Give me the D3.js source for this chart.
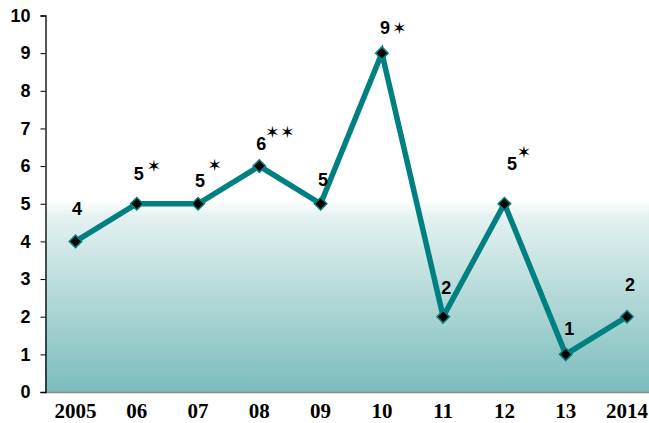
<!DOCTYPE html>
<html><head><meta charset="utf-8">
<script src="https://cdn.jsdelivr.net/npm/d3@7"></script>
<style>html,body{margin:0;padding:0;background:#fff;}svg{display:block;}</style>
</head><body>
<script>
const years = ["2005","06","07","08","09","10","11","12","13","2014"];
const values = [4,5,5,6,5,9,2,5,1,2];
const starCounts = [0,1,1,2,0,1,0,1,0,0];
const yTicks = [0,1,2,3,4,5,6,7,8,9,10];

const W = 649, H = 423;
const svg = d3.select("body").append("svg").attr("width",W).attr("height",H);

const x = d3.scalePoint().domain(years).range([75.5, 627]);
const y = d3.scaleLinear().domain([0,10]).range([392, 15.5]);

const sansB = "'Liberation Sans', Arial, sans-serif";

const defs = svg.append("defs");
const g = defs.append("linearGradient").attr("id","bg").attr("x1",0).attr("y1",0).attr("x2",0).attr("y2",1);
g.append("stop").attr("offset","0").attr("stop-color","#ffffff");
g.append("stop").attr("offset","0.49").attr("stop-color","#ffffff");
g.append("stop").attr("offset","0.535").attr("stop-color","#e4f1f1");
g.append("stop").attr("offset","1").attr("stop-color","#7bbcbc");

svg.append("rect").attr("x",45).attr("y",y(10)).attr("width",W-45).attr("height",y(0)-y(10)).attr("fill","url(#bg)");

svg.append("line").attr("x1",45).attr("x2",W).attr("y1",y(0)+0.5).attr("y2",y(0)+0.5).attr("stroke","#8a8a8a").attr("stroke-width",1.5);

const ya = svg.append("g").attr("transform","translate(45.5,0)")
  .call(d3.axisLeft(y).tickValues(yTicks).tickFormat(d3.format("d")).tickSize(5).tickPadding(10));
ya.select(".domain").attr("stroke","#000").attr("stroke-width",1.3);
ya.selectAll(".tick line").attr("stroke","#000");
ya.selectAll("text").attr("font-family",sansB).attr("font-weight","bold").attr("font-size","18px").attr("fill","#000");

svg.append("g").selectAll("text").data(years).join("text")
  .attr("x", d=>x(d)).attr("y", 418).attr("text-anchor","middle")
  .attr("font-family","'Liberation Serif', 'DejaVu Serif', 'Times New Roman', serif").attr("font-weight","bold").attr("font-size","21px")
  .text(d=>d);

const pts = years.map((yr,i)=>({yr, v:values[i], n:starCounts[i], i}));

svg.append("path").datum(pts)
  .attr("d", d3.line().x(d=>x(d.yr)).y(d=>y(d.v)))
  .attr("fill","none").attr("stroke","#008080").attr("stroke-width",5.5).attr("stroke-linejoin","miter");

svg.append("g").selectAll("path").data(pts).join("path")
  .attr("transform", d=>`translate(${x(d.yr)},${y(d.v)})`)
  .attr("d", d3.symbol(d3.symbolDiamond2).size(100))
  .attr("fill","#000").attr("stroke","#0a8080").attr("stroke-width",1.5);

// label layout nudges (dx, dy from the point)
const numNudge = [[1.5,-26],[2,-24],[2,-17],[2,-16],[2.5,-18],[3,-19],[3,-23],[7.5,-34],[3.5,-19],[3,-26]];
const starNudge = {1:[[17,-38]],2:[[16.5,-39]],3:[[13,-34],[28,-34]],5:[[17.5,-25]],7:[[19.5,-52]]};

svg.append("g").selectAll("text").data(pts).join("text")
  .attr("x", d=>x(d.yr)+numNudge[d.i][0]).attr("y", d=>y(d.v)+numNudge[d.i][1])
  .attr("text-anchor","middle")
  .attr("font-family",sansB).attr("font-weight","bold").attr("font-size","18px")
  .text(d=>d.v);

const starData = [];
pts.forEach(d=>{ for(let k=0;k<d.n;k++){ const s=starNudge[d.i][k]; starData.push({x:x(d.yr)+s[0], y:y(d.v)+s[1]}); } });
svg.append("g").selectAll("text").data(starData).join("text")
  .attr("x", d=>d.x).attr("y", d=>d.y)
  .attr("text-anchor","middle").attr("dominant-baseline","central")
  .attr("font-family","'DejaVu Sans', sans-serif").attr("font-size","17px")
  .text("✶");
</script>
</body></html>
